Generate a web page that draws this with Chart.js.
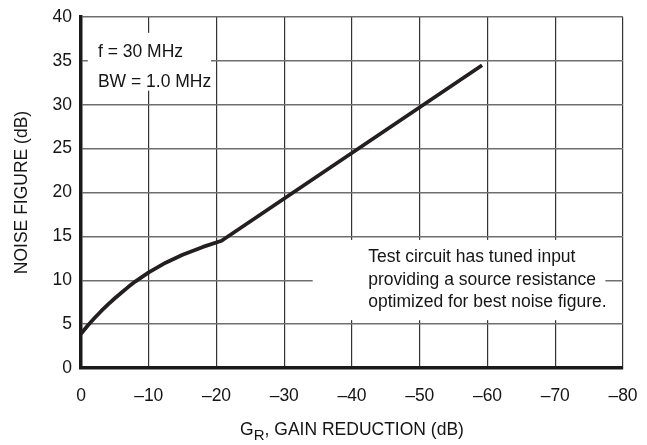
<!DOCTYPE html>
<html>
<head>
<meta charset="utf-8">
<script src="https://cdn.jsdelivr.net/npm/chart.js@4.4.0/dist/chart.umd.min.js"></script>
<style>
  html, body { margin: 0; padding: 0; background: #fff; }
  canvas { display: block; }
</style>
</head>
<body>
<canvas id="nfChart" width="647" height="445"></canvas>
<script>
// Noise figure vs gain reduction

const gainReduction = [0, -1, -2, -3, -4, -5, -6, -7, -8, -10, -12.5, -15, -18, -20.75, -59.2];
const noiseFigure   = [3.9, 4.85, 5.7, 6.5, 7.25, 7.95, 8.6, 9.25, 9.85, 10.9, 12.0, 12.9, 13.8, 14.5, 34.5];

const xTicks = [0, -10, -20, -30, -40, -50, -60, -70, -80];
const yTicks = [0, 5, 10, 15, 20, 25, 30, 35, 40];

const noteTop = ["f = 30 MHz", "BW = 1.0 MHz"];
const noteBottom = [
    "Test circuit has tuned input",
    "providing a source resistance",
    "optimized for best noise figure."
];

const FONT = "'Liberation Sans', Arial, Helvetica, sans-serif";
const FSIZE = 17.5;
const INK = "#151515";

function dash(v) {
    return v === 0 ? "0" : "\u2013" + Math.abs(v);
}

// white boxes with notes, anchored in data units
const notesPlugin = {
    id: "notes",
    afterDraw: function (chart) {
        var c = chart.ctx;
        var xs = chart.scales.x, ys = chart.scales.y;
        function box(x0, y0, x1, y1) {
            var l = xs.getPixelForValue(x0), r = xs.getPixelForValue(x1);
            var t = ys.getPixelForValue(y0), b = ys.getPixelForValue(y1);
            c.fillStyle = "#fff";
            c.fillRect(l, t, r - l, b - t);
        }
        c.save();
        box(-1.0, 38.2, -19.2, 31.6);
        box(-34.2, 14.6, -77.4, 5.45);

        c.fillStyle = INK;
        c.font = FSIZE + "px " + FONT;
        c.textAlign = "left";
        c.textBaseline = "alphabetic";
        var x1 = xs.getPixelForValue(-2.5);
        c.fillText(noteTop[0], x1, ys.getPixelForValue(35.4));
        c.fillText(noteTop[1], x1, ys.getPixelForValue(32.0));

        var x2 = xs.getPixelForValue(-42.4);
        var base = [12.08, 9.43, 6.9];
        noteBottom.forEach(function (s, i) {
            c.fillText(s, x2, ys.getPixelForValue(base[i]));
        });

        // x axis title with subscript R
        var area = chart.chartArea;
        var bigF = FSIZE + "px " + FONT, smallF = "15px " + FONT;
        c.font = bigF;
        var wG = c.measureText("G").width;
        var rest = ", GAIN REDUCTION (dB)";
        var wRest = c.measureText(rest).width;
        c.font = smallF;
        var wR = c.measureText("R").width;
        var total = wG + wR + wRest;
        var sx = (area.left + area.right) / 2 - total / 2;
        var by = 435;
        c.font = bigF;
        c.fillText("G", sx, by);
        c.font = smallF;
        c.fillText("R", sx + wG, by + 5);
        c.font = bigF;
        c.fillText(rest, sx + wG + wR, by);
        c.restore();
    }
};

const ctx = document.getElementById("nfChart").getContext("2d");

new Chart(ctx, {
    type: "line",
    data: {
        datasets: [{
            data: gainReduction.map(function (x, i) { return { x: x, y: noiseFigure[i] }; }),
            borderColor: "#231f20",
            borderWidth: 3.8,
            pointRadius: 0,
            tension: 0,
            fill: false,
            borderJoinStyle: "round",
            borderCapStyle: "butt"
        }]
    },
    options: {
        responsive: false,
        animation: false,
        layout: { padding: { top: 17, right: 24, left: 0, bottom: 0 } },
        plugins: {
            legend: { display: false },
            tooltip: { enabled: false }
        },
        scales: {
            x: {
                type: "linear",
                min: -80,
                max: 0,
                reverse: true,
                afterFit: function (s) {
                    s.height = 77;
                    s.paddingLeft = 0;
                    s.paddingRight = 0;
                },
                afterBuildTicks: function (s) {
                    s.ticks = xTicks.map(function (v) { return { value: v }; });
                },
                ticks: {
                    callback: dash,
                    color: INK,
                    padding: 18,
                    maxRotation: 0,
                    font: { family: FONT, size: FSIZE }
                },
                grid: { color: "#333", lineWidth: 1.2, drawTicks: false },
                border: { display: true, color: "#1a1a1a", width: 3.5 }
            },
            y: {
                min: 0,
                max: 40,
                afterFit: function (s) {
                    s.width = 81;
                    s.paddingTop = 0;
                    s.paddingBottom = 0;
                },
                afterBuildTicks: function (s) {
                    s.ticks = yTicks.map(function (v) { return { value: v }; });
                },
                ticks: {
                    color: INK,
                    padding: 9,
                    font: { family: FONT, size: FSIZE }
                },
                grid: { color: "#6e6e6e", lineWidth: 1.5, drawTicks: false },
                border: { display: true, color: "#1a1a1a", width: 3.5 },
                title: {
                    display: true,
                    text: "NOISE FIGURE (dB)",
                    color: INK,
                    padding: { top: 12, bottom: 0 },
                    font: { family: FONT, size: FSIZE }
                }
            }
        }
    },
    plugins: [notesPlugin]
});
</script>
</body>
</html>
